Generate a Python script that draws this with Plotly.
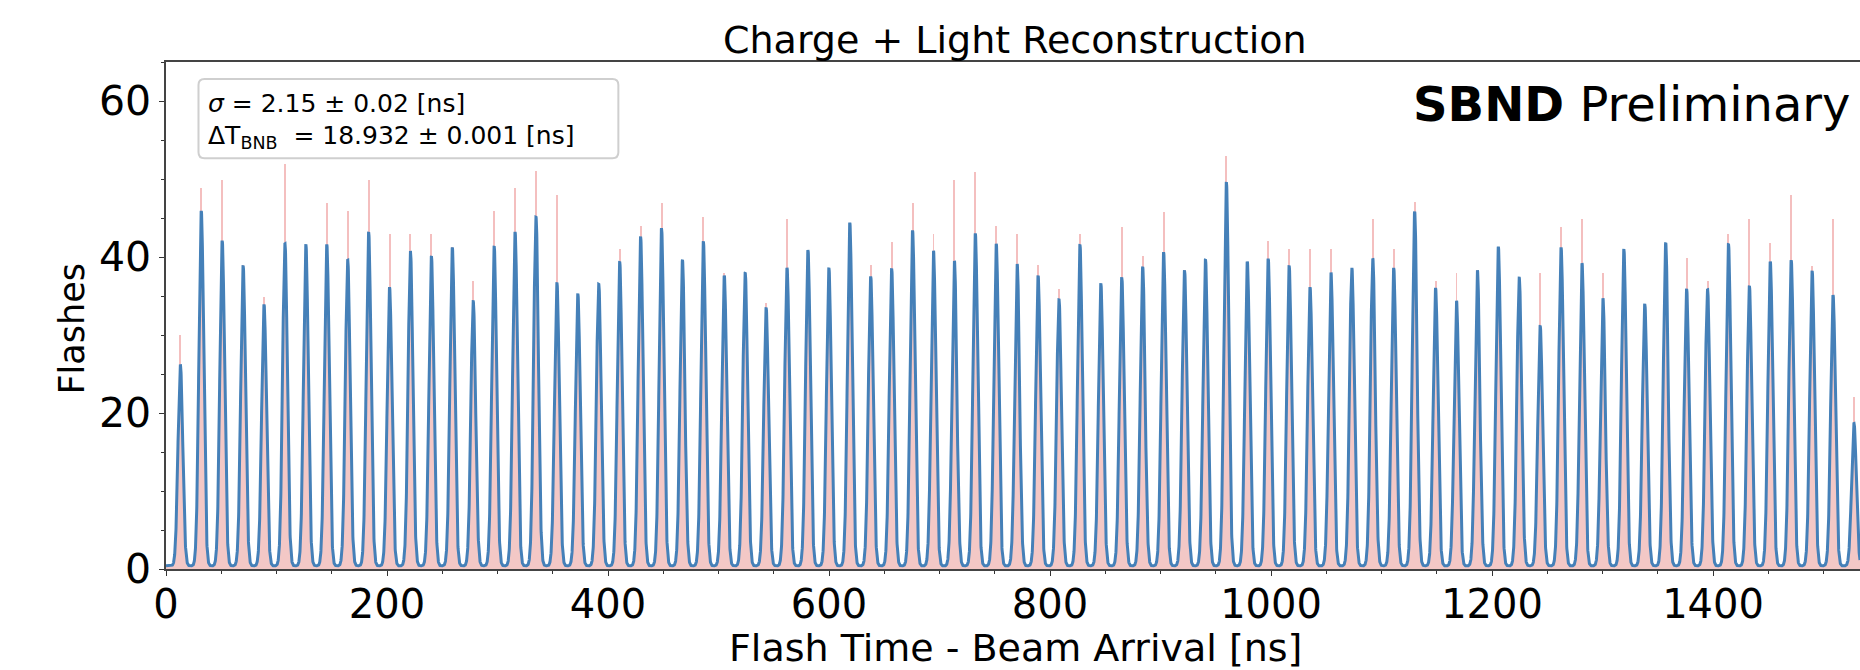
import numpy as np
import plotly.graph_objects as go

# ---- data ----
sigma_ns = 2.15            # fitted gaussian width [ns]
delta_t_ns = 18.932        # bunch spacing [ns]
first_bunch_ns = 13.0      # position of first bunch [ns]
background = 0.4           # flat fitted background [flashes]

# fitted peak amplitudes (blue curve), one per bunch
fit_amplitudes = [
    25.8, 45.5, 41.7, 38.5, 33.5, 41.3, 41.2, 41.2, 39.2, 42.8,
    35.7, 40.2, 39.7, 40.8, 33.9, 41.0, 42.8, 44.7, 36.3, 34.9,
    36.1, 39.0, 42.2, 43.3, 39.2, 41.6, 37.2, 37.6, 33.1, 38.2,
    40.5, 38.2, 44.0, 37.1, 38.1, 43.0, 40.4, 39.1, 42.6, 41.3,
    38.7, 37.2, 34.1, 41.2, 36.2, 37.0, 38.3, 40.2, 37.9, 39.3,
    49.2, 39.0, 39.4, 38.5, 35.7, 37.6, 38.2, 39.4, 38.2, 45.4,
    35.6, 34.0, 37.9, 40.9, 36.9, 30.8, 40.8, 38.8, 34.3, 40.6,
    33.6, 41.4, 35.5, 35.5, 41.3, 35.9, 39.0, 39.2, 37.8, 34.7,
    18.25,
]

# tallest histogram bin of every bunch (light red spikes)
hist_max_bins = [
    30.0, 48.9, 49.9, 39.0, 34.9, 51.9, 41.6, 46.9, 45.9, 49.9,
    42.9, 42.9, 43.0, 41.3, 36.9, 45.9, 48.9, 51.0, 47.9, 35.3,
    36.5, 41.0, 44.0, 46.9, 39.6, 45.1, 37.9, 38.0, 34.1, 44.9,
    40.8, 38.6, 44.4, 39.0, 41.9, 46.9, 42.9, 49.9, 50.9, 44.0,
    42.9, 39.0, 35.9, 42.9, 36.6, 43.9, 40.1, 45.8, 38.3, 39.7,
    52.9, 39.4, 42.0, 41.0, 41.0, 41.0, 38.6, 44.9, 41.0, 47.0,
    36.9, 37.9, 38.3, 41.3, 37.3, 37.9, 43.9, 44.9, 37.9, 41.0,
    34.0, 41.8, 39.9, 36.9, 42.9, 44.9, 41.8, 47.9, 38.8, 44.9,
    22.0,
]

x_range = [0, 1533]
y_range = [0, 65]
x_ticks = [0, 200, 400, 600, 800, 1000, 1200, 1400]
y_ticks = [0, 20, 40, 60]

# ---- fit curve built from the fit parameters ----
centers = first_bunch_ns + delta_t_ns * np.arange(len(fit_amplitudes))
t = np.arange(x_range[0], x_range[1] + 0.05, 0.1)
fit = np.full_like(t, background)
for c, a in zip(centers, fit_amplitudes):
    fit += a * np.exp(-0.5 * ((t - c) / sigma_ns) ** 2)

BLUE = "#4580b8"
PINK = "#f3c8c6"
SPIKE = "#f0a4a4"
FONT = "DejaVu Sans"

fig = go.Figure()
fig.add_trace(go.Scatter(x=t, y=fit, mode="none", fill="tozeroy",
                         fillcolor=PINK, hoverinfo="skip", showlegend=False))
fig.add_trace(go.Bar(x=centers, y=hist_max_bins, width=0.9,
                     marker=dict(color=SPIKE, line=dict(width=0)),
                     opacity=0.7, showlegend=False))
fig.add_trace(go.Scatter(x=t, y=fit, mode="lines",
                         line=dict(color=BLUE, width=3), showlegend=False))

# page body margin is removed by a post script, so page px == figure px
W, H = 1860, 670
PL, PT, PB = 165.5, 62.0, 569.0      # plot area in page pixels
L = PL
T = PT
B = H - PB
R = 0
pw = W - L - R
ph = H - T - B


def px(xp):
    return (xp - PL) / pw


def py(yp):
    return (PB - yp) / ph


fig.update_layout(
    width=W, height=H,
    margin=dict(l=L, r=R, t=T, b=B, pad=0),
    paper_bgcolor="white", plot_bgcolor="white",
    font=dict(family=FONT, color="black"),
    bargap=0,
    xaxis=dict(range=x_range, tickvals=x_ticks, ticks="outside", ticklen=5,
               tickwidth=1.2, tickcolor="#333", showline=True, linecolor="#444",
               linewidth=1.5, mirror=True, showgrid=False, zeroline=False,
               tickfont=dict(size=40, family=FONT), ticklabelstandoff=-6,
               minor=dict(dtick=50, ticks="outside", ticklen=3, tickcolor="#333")),
    yaxis=dict(range=y_range, tickvals=y_ticks, ticks="outside", ticklen=5,
               tickwidth=1.2, tickcolor="#333", showline=True, linecolor="#444",
               linewidth=1.5, showgrid=False, zeroline=False,
               tickfont=dict(size=41, family=FONT), ticklabelstandoff=0,
               minor=dict(dtick=5, ticks="outside", ticklen=3, tickcolor="#333")),
)

# fit-result box (rounded corners)
x0, x1 = px(198), px(618)
y0, y1 = py(158.3), py(79)
rx, ry = 6 / pw, 6 / ph
path = (f"M {x0+rx},{y1} L {x1-rx},{y1} Q {x1},{y1} {x1},{y1-ry} "
        f"L {x1},{y0+ry} Q {x1},{y0} {x1-rx},{y0} L {x0+rx},{y0} "
        f"Q {x0},{y0} {x0},{y0+ry} L {x0},{y1-ry} Q {x0},{y1} {x0+rx},{y1} Z")
fig.add_shape(type="path", path=path, xref="paper", yref="paper",
              line=dict(color="#cfcfcf", width=2), fillcolor="rgba(255,255,255,0.85)")

ann = [
    dict(text="<i>σ</i> = 2.15 ± 0.02 [ns]", x=px(206), y=py(104),
         xanchor="left", yanchor="middle", font=dict(size=25)),
    dict(text="ΔT<sub>BNB</sub>  = 18.932 ± 0.001 [ns]", x=px(206), y=py(137),
         xanchor="left", yanchor="middle", font=dict(size=25)),
    dict(text="<b>SBND</b> Preliminary", x=px(1852), y=py(104),
         xanchor="right", yanchor="middle", font=dict(size=48)),
    dict(text="Charge + Light Reconstruction", x=px(1015), y=py(40),
         xanchor="center", yanchor="middle", font=dict(size=38)),
    dict(text="Flash Time - Beam Arrival [ns]", x=px(1015), y=py(648),
         xanchor="center", yanchor="middle", font=dict(size=38)),
    dict(text="Flashes", x=px(71), y=py(329), textangle=-90,
         xanchor="center", yanchor="middle", font=dict(size=35)),
]
for a in ann:
    fig.add_annotation(xref="paper", yref="paper", showarrow=False, **a)

fig.write_html(
    "out.html",
    config={"displayModeBar": False},
    post_script="document.body.style.margin='0';document.body.style.overflow='hidden';",
)
